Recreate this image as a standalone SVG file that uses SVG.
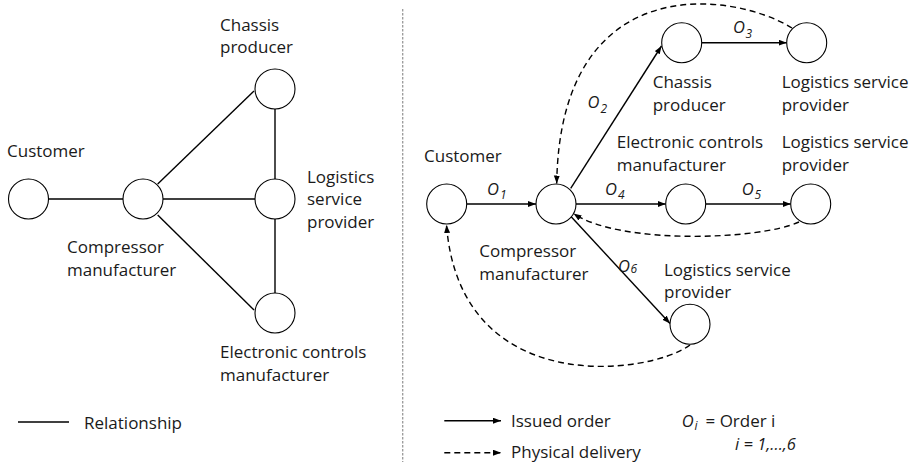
<svg xmlns="http://www.w3.org/2000/svg" width="914" height="466" viewBox="0 0 914 466">
  <style>
    .node { fill: #fff; stroke: #000; stroke-width: 1.1; }
    .rel { stroke: #000; stroke-width: 1.4; fill: none; }
    .order { stroke: #000; stroke-width: 1.4; fill: none; marker-end: url(#head); }
    .delivery { stroke: #000; stroke-width: 1.4; fill: none; stroke-dasharray: 6 4; marker-end: url(#head); }
    .lbl { font-family: "Open Sans", "Noto Sans", sans-serif; font-size: 17px; fill: #1a1a1a; }
    .ord { font-family: "Open Sans", "Noto Sans", sans-serif; font-size: 16.5px; font-style: italic; fill: #1a1a1a; }
    .sub { font-size: 12px; }
  </style>
  <defs>
    <marker id="head" markerUnits="userSpaceOnUse" markerWidth="9" markerHeight="7" refX="8" refY="3" orient="auto">
      <path d="M0,0 L8,3 L0,6 z" fill="#000"/>
    </marker>
  </defs>

  <rect width="914" height="466" fill="#fff"/>

  <!-- divider between the two views -->
  <line x1="402.7" y1="9" x2="402.7" y2="462" stroke="#999" stroke-width="1.3" stroke-dasharray="2.5 1.5"/>

  <!-- ===== Relationship network ===== -->
  <g id="left-connectors">
    <line class="rel" x1="48.5" y1="199" x2="123" y2="199"/>
    <line class="rel" x1="157.7" y1="184" x2="254" y2="91"/>
    <line class="rel" x1="163" y1="199" x2="255" y2="199"/>
    <line class="rel" x1="157.7" y1="215" x2="254" y2="310"/>
    <line class="rel" x1="275" y1="109" x2="275" y2="179"/>
    <line class="rel" x1="275" y1="219" x2="275" y2="293"/>
  </g>

  <g id="l-customer">
    <circle class="node" cx="28.5" cy="199" r="20"/>
    <text class="lbl" x="7" y="157">Customer</text>
  </g>
  <g id="l-compressor">
    <circle class="node" cx="143" cy="199" r="20"/>
    <text class="lbl" x="67" y="253">Compressor</text>
    <text class="lbl" x="67" y="276">manufacturer</text>
  </g>
  <g id="l-chassis">
    <circle class="node" cx="275" cy="89" r="20"/>
    <text class="lbl" x="220" y="30.5">Chassis</text>
    <text class="lbl" x="220" y="53">producer</text>
  </g>
  <g id="l-logistics">
    <circle class="node" cx="275" cy="199" r="20"/>
    <text class="lbl" x="307" y="182.7">Logistics</text>
    <text class="lbl" x="307" y="205">service</text>
    <text class="lbl" x="307" y="227.7">provider</text>
  </g>
  <g id="l-electronic">
    <circle class="node" cx="275" cy="313" r="20"/>
    <text class="lbl" x="220" y="358">Electronic controls</text>
    <text class="lbl" x="220" y="380.7">manufacturer</text>
  </g>

  <g id="l-legend">
    <line class="rel" x1="18" y1="422" x2="69" y2="422" stroke-width="1.2"/>
    <text class="lbl" x="84" y="429">Relationship</text>
  </g>

  <!-- ===== Order and delivery flows ===== -->
  <g id="right-connectors">
    <!-- issued orders -->
    <line class="order" x1="466.7" y1="204" x2="536" y2="204"/>
    <line class="order" x1="570.7" y1="188.3" x2="661.5" y2="46"/>
    <line class="order" x1="701.7" y1="42.7" x2="786.7" y2="42.7"/>
    <line class="order" x1="576" y1="204" x2="665.7" y2="204"/>
    <line class="order" x1="705.7" y1="204" x2="790.7" y2="204"/>
    <line class="order" x1="570.5" y1="216" x2="670" y2="323.5"/>
    <!-- physical deliveries -->
    <path class="delivery" d="M792,28 C730,-10 560,-30 556.7,183.5"/>
    <path class="delivery" d="M799,222 C760,240 620,245 573.5,213.5"/>
    <path class="delivery" d="M690,345 C650,375 460,400 446.5,225"/>
  </g>

  <g id="order-labels">
    <text class="ord" x="487" y="194.8">O<tspan class="sub" dx="1" dy="4.5">1</tspan></text>
    <text class="ord" x="587.5" y="108.3">O<tspan class="sub" dx="1" dy="5">2</tspan></text>
    <text class="ord" x="733" y="33.3">O<tspan class="sub" dx="0.5" dy="4.5">3</tspan></text>
    <text class="ord" x="605" y="194.8">O<tspan class="sub" dx="1" dy="4.5">4</tspan></text>
    <text class="ord" x="741.7" y="194.8">O<tspan class="sub" dx="1" dy="4.5">5</tspan></text>
    <text class="ord" x="618" y="271.7">O<tspan class="sub" dx="0.5" dy="1">6</tspan></text>
  </g>

  <g id="r-customer">
    <circle class="node" cx="446.7" cy="204" r="20"/>
    <text class="lbl" x="424" y="161.7">Customer</text>
  </g>
  <g id="r-compressor">
    <circle class="node" cx="556" cy="204" r="20"/>
    <text class="lbl" x="479.3" y="256.7">Compressor</text>
    <text class="lbl" x="479.3" y="280">manufacturer</text>
  </g>
  <g id="r-chassis">
    <circle class="node" cx="681.7" cy="42.7" r="20"/>
    <text class="lbl" x="652.7" y="88.3">Chassis</text>
    <text class="lbl" x="652.7" y="110.7">producer</text>
  </g>
  <g id="r-logistics-1">
    <circle class="node" cx="806.7" cy="42.7" r="20"/>
    <text class="lbl" x="781.7" y="88.3">Logistics service</text>
    <text class="lbl" x="781.7" y="110.7">provider</text>
  </g>
  <g id="r-electronic">
    <circle class="node" cx="685.7" cy="204" r="20"/>
    <text class="lbl" x="616.7" y="148.3">Electronic controls</text>
    <text class="lbl" x="616.7" y="170.7">manufacturer</text>
  </g>
  <g id="r-logistics-2">
    <circle class="node" cx="810.7" cy="204" r="20"/>
    <text class="lbl" x="781.7" y="148.3">Logistics service</text>
    <text class="lbl" x="781.7" y="170.7">provider</text>
  </g>
  <g id="r-logistics-3">
    <circle class="node" cx="690" cy="324.3" r="20"/>
    <text class="lbl" x="664" y="276">Logistics service</text>
    <text class="lbl" x="664" y="298.3">provider</text>
  </g>

  <g id="r-legend">
    <line class="order" x1="444.3" y1="420.7" x2="501" y2="420.7"/>
    <text class="lbl" x="511" y="426.7">Issued order</text>
    <line class="delivery" x1="444.3" y1="452.7" x2="501" y2="452.7" stroke-dasharray="5 4"/>
    <text class="lbl" x="511" y="458.3">Physical delivery</text>
    <text class="ord" x="681.7" y="426.7" font-size="17">O<tspan class="sub" dx="1" dy="3">i</tspan></text>
    <text class="lbl" x="705.5" y="426.7">= Order i</text>
    <text class="ord" x="735" y="450" font-size="17">i = 1,...,6</text>
  </g>
</svg>
